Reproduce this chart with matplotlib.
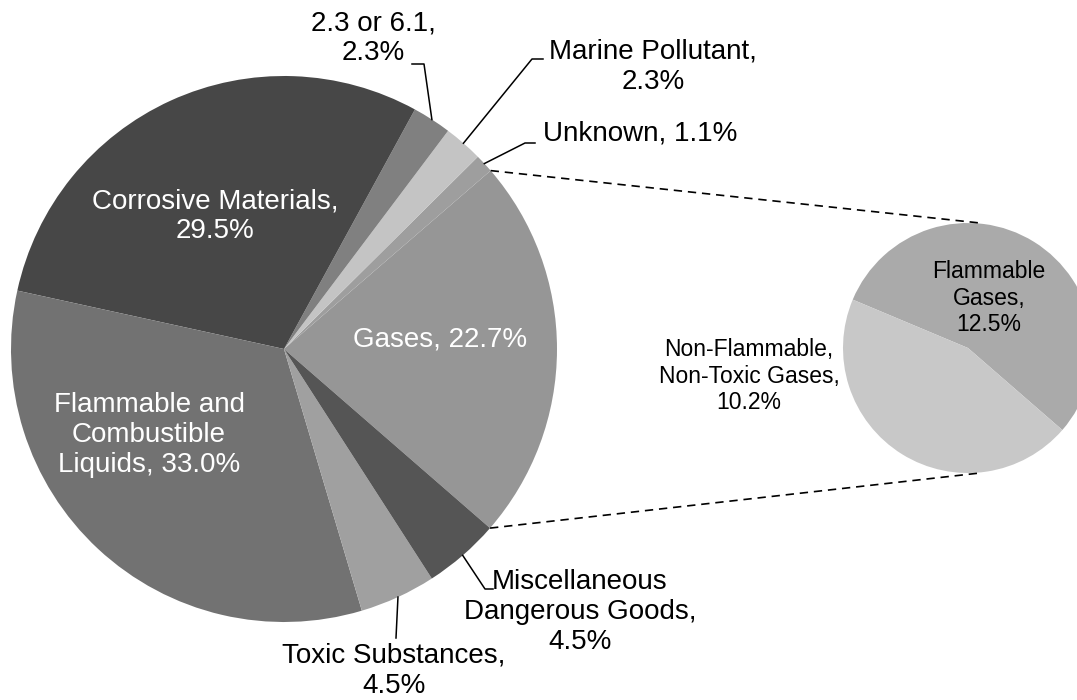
import numpy as np
import matplotlib
matplotlib.use("Agg")
import matplotlib.pyplot as plt

plt.rcParams['font.family'] = ['Liberation Sans', 'DejaVu Sans']

# main pie data (counterclockwise from the Gases slice)
main_labels = ['Gases', 'Unknown', 'Marine Pollutant', '2.3 or 6.1',
               'Corrosive Materials', 'Flammable and Combustible Liquids',
               'Toxic Substances', 'Miscellaneous Dangerous Goods']
main_values = [22.7, 1.1, 2.3, 2.3, 29.5, 33.0, 4.5, 4.5]
main_colors = ['#969696', '#9e9e9e', '#c4c4c4', '#808080',
               '#474747', '#727272', '#a0a0a0', '#555555']

# breakdown of the Gases slice
sub_labels = ['Flammable Gases', 'Non-Flammable, Non-Toxic Gases']
sub_values = [12.5, 10.2]
sub_colors = ['#aaaaaa', '#c8c8c8']

W, H = 1077, 700
def Y(y):
    # reference pixel rows are counted from the top
    return H - y

fig = plt.figure(figsize=(W / 100, H / 100), dpi=100)
ax = fig.add_axes([0, 0, 1, 1])

c_main = (284, Y(349))
r_main = 273
c_sub = (968, Y(348))
r_sub = 125

wedges, _ = ax.pie(main_values, colors=main_colors, startangle=-41,
                   center=c_main, radius=r_main,
                   wedgeprops=dict(linewidth=0))
sub_wedges, _ = ax.pie(sub_values, colors=sub_colors, startangle=-41,
                       center=c_sub, radius=r_sub,
                       wedgeprops=dict(linewidth=0))

def rim(w, ang=None):
    if ang is None:
        ang = (w.theta1 + w.theta2) / 2
    a = np.deg2rad(ang)
    return (c_main[0] + r_main * np.cos(a), c_main[1] + r_main * np.sin(a))

# dashed connectors from Gases slice to the secondary pie
g = wedges[0]
p1 = rim(g, g.theta2)
p2 = rim(g, g.theta1)
ax.plot([p1[0], c_sub[0] + 12], [p1[1], c_sub[1] + r_sub], color='black',
        lw=1.2, ls=(0, (5, 3.5)))
ax.plot([p2[0], c_sub[0] + 12], [p2[1], c_sub[1] - r_sub], color='black',
        lw=1.2, ls=(0, (5, 3.5)))

# leader lines: slice index, elbow, end (reference pixels)
leaders = [
    (3, (424, 64), (412, 64)),
    (2, (532, 59), (543, 59)),
    (1, (525, 143), (535, 143)),
    (7, (485, 589), (493, 589)),
    (6, (396, 638), None),
]
for i, elbow, end in leaders:
    s = rim(wedges[i])
    xs = [s[0], elbow[0]]
    ys = [s[1], Y(elbow[1])]
    if end is not None:
        xs.append(end[0])
        ys.append(Y(end[1]))
    ax.plot(xs, ys, color='black', lw=1.1)

fs = 20
texts = [
    (215, 216, 'Corrosive Materials,\n29.5%', 'white', fs),
    (440, 340, 'Gases, 22.7%', 'white', fs),
    (149, 435, 'Flammable and\nCombustible\nLiquids, 33.0%', 'white', fs),
    (373, 38, '2.3 or 6.1,\n2.3%', 'black', fs),
    (653, 67, 'Marine Pollutant,\n2.3%', 'black', fs),
    (640, 134, 'Unknown, 1.1%', 'black', fs),
    (580, 612, 'Miscellaneous\nDangerous Goods,\n4.5%', 'black', fs),
    (394, 671, 'Toxic Substances,\n4.5%', 'black', fs),
    (749, 376, 'Non-Flammable,\nNon-Toxic Gases,\n10.2%', 'black', 16.5),
    (989, 298, 'Flammable\nGases,\n12.5%', 'black', 16.5),
]
for x, y, t, col, size in texts:
    ax.text(x, Y(y), t, color=col, fontsize=size, ha='center', va='center',
            linespacing=1.2)

ax.set_xlim(0, W)
ax.set_ylim(0, H)
ax.set_aspect('equal')
ax.axis('off')

fig.savefig('out.png', dpi=100)
